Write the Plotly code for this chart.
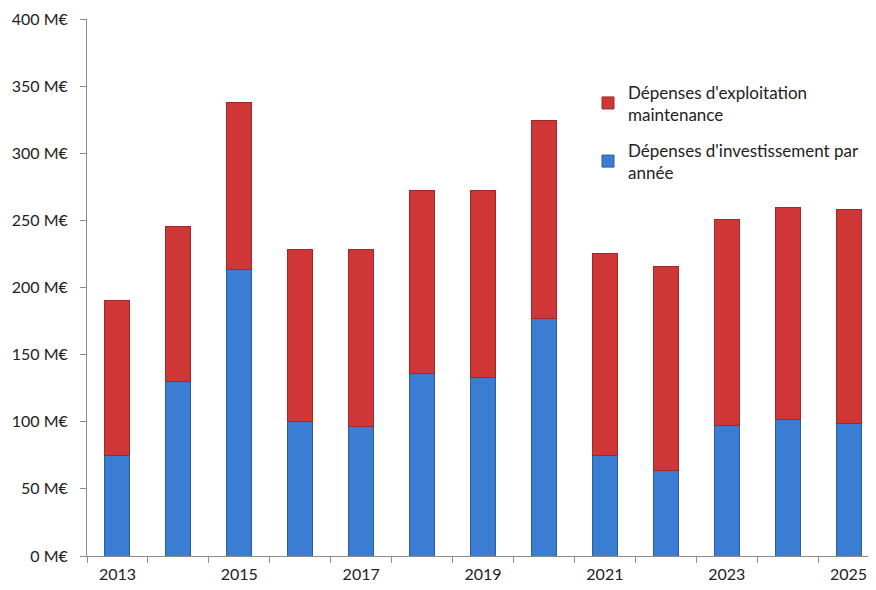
import plotly.graph_objects as go

# Années et dépenses (M€)
years = [2013, 2014, 2015, 2016, 2017, 2018, 2019, 2020, 2021, 2022, 2023, 2024, 2025]
investissement = [75, 130, 213.5, 100, 96.5, 136, 133, 177, 75, 64, 97, 101.5, 98.5]
exploitation = [115, 115.5, 124, 128, 131.5, 136.5, 139, 147.5, 150, 152, 154, 158, 159.5]
tick_years = [2013, 2015, 2017, 2019, 2021, 2023, 2025]

fig = go.Figure()
fig.add_trace(go.Bar(
    x=years, y=investissement, name="Dépenses d'investissement par<br>année",
    legendgroup="inv", legendrank=2,
    width=0.41, marker=dict(color="#3a7dd3", line=dict(color="#2a5e9e", width=1)),
))
fig.add_trace(go.Bar(
    x=years, y=exploitation, name="Dépenses d'exploitation<br>maintenance",
    legendgroup="exp", legendrank=1,
    width=0.41, marker=dict(color="#cf3636", line=dict(color="#a02828", width=1)),
))

# la page a une marge de 8 px autour du graphique
fig.update_layout(
    width=868, height=574,
    barmode="stack",
    plot_bgcolor="white", paper_bgcolor="white",
    margin=dict(l=79, r=0, t=11, b=26, autoexpand=False),
    font=dict(family="Lato, Open Sans, sans-serif", size=16, color="#333333"),
    legend=dict(
        x=0.635, y=0.897, xanchor="left", yanchor="top",
        traceorder="grouped", font=dict(size=17, color="#222222"),
        tracegroupgap=11, bgcolor="rgba(0,0,0,0)",
    ),
    xaxis=dict(
        range=[2012.5, 2025.45], showgrid=False, zeroline=False,
        showline=True, linecolor="#8c8c8c", linewidth=1,
        tickvals=tick_years, ticks="", ticklabelstandoff=4,
        minor=dict(ticks="outside", tick0=2012.5, dtick=1, ticklen=6, tickcolor="#8c8c8c"),
        tickfont=dict(size=16, color="#222222"),
    ),
    yaxis=dict(
        range=[0, 400], dtick=50, showgrid=False, zeroline=False,
        showline=True, linecolor="#8c8c8c", linewidth=1,
        ticks="outside", ticklen=6, tickcolor="#8c8c8c", ticklabelstandoff=9,
        ticksuffix=" M€", tickfont=dict(size=16, color="#222222"),
    ),
)

fig.write_html("out.html")
